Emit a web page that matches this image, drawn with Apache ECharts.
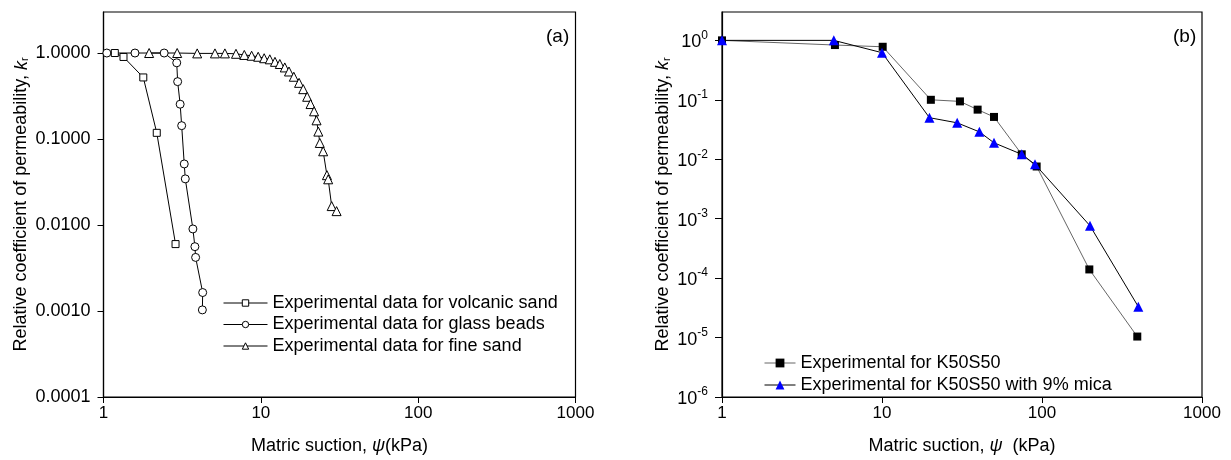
<!DOCTYPE html>
<html>
<head>
<meta charset="utf-8">
<script src="https://cdn.jsdelivr.net/npm/echarts@6/dist/echarts.min.js"></script>
<style>
  html, body { margin: 0; padding: 0; background: #fff; }
  #chart { width: 1231px; height: 460px; }
</style>
</head>
<body>
<div id="chart"></div>
<script>
// panel (a) data
const volcanicX = [1.18, 1.34, 1.79, 2.18, 2.87]
const volcanicY = [1.0, 0.9, 0.52, 0.118, 0.006]
const beadsX = [1.05, 1.585, 2.43, 2.92, 2.96, 3.07, 3.14, 3.26, 3.31, 3.7, 3.81, 3.85, 4.27, 4.25]
const beadsY = [1.0, 1.0, 1.0, 0.77, 0.465, 0.254, 0.143, 0.0513, 0.0344, 0.009, 0.0056, 0.0042, 0.00164, 0.00103]
const fineX = [1.95, 2.94, 3.94, 5.11, 5.91, 6.95, 7.85, 8.74, 9.62, 10.5, 11.4, 12.3, 13.2, 14.2, 15.1,
  16.2, 17.5, 18.6, 19.7, 20.7, 21.8, 22.6, 23.2, 23.7, 24.9, 26.3, 26.8, 28.2, 30.3]
const fineY = [1.0, 1.0, 0.99, 0.99, 0.99, 0.98, 0.95, 0.93, 0.905, 0.87, 0.845, 0.79, 0.745, 0.68, 0.61,
  0.53, 0.45, 0.38, 0.31, 0.255, 0.21, 0.165, 0.122, 0.09, 0.072, 0.038, 0.034, 0.0166, 0.0145]
const namesA = ['Experimental data for volcanic sand', 'Experimental data for glass beads', 'Experimental data for fine sand']
const ticksA = [0.0001, 0.001, 0.01, 0.1, 1]

// panel (b) data
const k50X = [1, 5.08, 10.1, 20.2, 30.7, 39.6, 50.1, 74.7, 92.6, 197.6, 394]
const k50Y = [1.0, 0.834, 0.78, 0.1, 0.094, 0.0683, 0.0515, 0.0121, 0.00755, 0.00014, 0.0000104]
const micaX = [1, 5.0, 10.0, 19.8, 29.5, 40.6, 50.1, 74.7, 90.4, 199.5, 400]
const micaY = [1.0, 1.0, 0.62, 0.05, 0.041, 0.0289, 0.0189, 0.0121, 0.0082, 0.00076, 0.000033]
const namesB = ['Experimental for K50S50', 'Experimental for K50S50 with 9% mica']
const ticksB = [1e-6, 1e-5, 1e-4, 1e-3, 1e-2, 1e-1, 1]
const ticksX = [1, 10, 100, 1000]

const font = "'Liberation Sans', Arial, sans-serif"
const zip = (xs, ys) => xs.map((x, i) => [x, ys[i]])

const chart = echarts.init(document.getElementById('chart'))

function xAxisFor (gridIndex) {
  return {
    type: 'log',
    gridIndex: gridIndex,
    min: 1,
    max: 1000,
    name: gridIndex === 0 ? 'Matric suction, {i|ψ}(kPa)' : 'Matric suction, {i|ψ}  (kPa)',
    nameLocation: 'middle',
    nameGap: 40,
    nameTextStyle: {
      fontFamily: font, fontSize: 18, color: '#000',
      rich: { i: { fontFamily: font, fontSize: 18, fontStyle: 'italic', color: '#000' } }
    },
    axisLine: { show: true, lineStyle: { color: '#000', width: 1.2 } },
    axisTick: { show: true, length: 6, lineStyle: { color: '#000' }, customValues: ticksX },
    axisLabel: {
      fontFamily: font, fontSize: 17, color: '#000', margin: 8,
      customValues: ticksX,
      formatter: v => String(Math.round(v))
    },
    splitLine: { show: false },
    minorTick: { show: false }
  }
}

const option = {
  animation: false,
  backgroundColor: '#fff',
  textStyle: { fontFamily: font },
  title: [
    { text: '(a)', left: 541, top: 22, textStyle: { fontFamily: font, fontSize: 19, fontWeight: 'normal', color: '#000' } },
    { text: '(b)', left: 1168, top: 22, textStyle: { fontFamily: font, fontSize: 19, fontWeight: 'normal', color: '#000' } }
  ],
  grid: [
    { left: 103.5, top: 12, width: 472, height: 386, show: true, borderColor: '#000', borderWidth: 1.2, backgroundColor: 'transparent' },
    { left: 722, top: 12, width: 480, height: 387, show: true, borderColor: '#000', borderWidth: 1.2, backgroundColor: 'transparent' }
  ],
  legend: [
    {
      data: namesA,
      orient: 'vertical',
      left: 223,
      top: 294,
      padding: 0,
      itemWidth: 44,
      itemHeight: 8,
      itemGap: 3.5,
      lineStyle: { width: 1 },
      itemStyle: { borderWidth: 1 },
      textStyle: { fontFamily: font, fontSize: 18, color: '#000' }
    },
    {
      data: namesB,
      orient: 'vertical',
      left: 764,
      top: 354,
      padding: 0,
      itemWidth: 31,
      itemHeight: 11,
      itemGap: 4,
      lineStyle: { width: 1 },
      textStyle: { fontFamily: font, fontSize: 18, color: '#000' }
    }
  ],
  xAxis: [xAxisFor(0), xAxisFor(1)],
  yAxis: [
    {
      type: 'log',
      gridIndex: 0,
      min: 0.0001,
      max: 3,
      name: 'Relative coefficient of permeability, {i|k}{s|r}',
      nameLocation: 'middle',
      nameGap: 73,
      nameTextStyle: {
        fontFamily: font, fontSize: 18, color: '#000',
        rich: {
          i: { fontFamily: font, fontSize: 18, fontStyle: 'italic', color: '#000' },
          s: { fontFamily: font, fontSize: 11, color: '#000', verticalAlign: 'bottom', lineHeight: 14 }
        }
      },
      axisLine: { show: true, lineStyle: { color: '#000', width: 1.2 } },
      axisTick: { show: true, length: 6, lineStyle: { color: '#000' }, customValues: ticksA },
      axisLabel: {
        fontFamily: font, fontSize: 18, color: '#000', margin: 13,
        customValues: ticksA,
        formatter: v => v.toFixed(4)
      },
      splitLine: { show: false }
    },
    {
      type: 'log',
      gridIndex: 1,
      min: 1e-6,
      max: 3,
      name: 'Relative coefficient of permeability, {i|k}{s|r}',
      nameLocation: 'middle',
      nameGap: 50,
      nameTextStyle: {
        fontFamily: font, fontSize: 18, color: '#000',
        rich: {
          i: { fontFamily: font, fontSize: 18, fontStyle: 'italic', color: '#000' },
          s: { fontFamily: font, fontSize: 11, color: '#000', verticalAlign: 'bottom', lineHeight: 14 }
        }
      },
      axisLine: { show: true, lineStyle: { color: '#000', width: 1.2 } },
      axisTick: { show: true, length: 7, lineStyle: { color: '#000' }, customValues: ticksB },
      axisLabel: {
        color: '#000', margin: 14,
        customValues: ticksB,
        formatter: v => '{b|10}{s|' + Math.round(Math.log10(v)) + '}',
        rich: {
          b: { fontFamily: font, fontSize: 18, color: '#000', lineHeight: 22, verticalAlign: 'bottom' },
          s: { fontFamily: font, fontSize: 12, color: '#000', lineHeight: 12, verticalAlign: 'top' }
        }
      },
      splitLine: { show: false }
    }
  ],
  series: [
    {
      name: namesA[0], type: 'line', xAxisIndex: 0, yAxisIndex: 0,
      data: zip(volcanicX, volcanicY),
      symbol: 'rect', symbolSize: 7,
      lineStyle: { color: '#000', width: 1 },
      itemStyle: { color: '#fff', borderColor: '#000', borderWidth: 1 }
    },
    {
      name: namesA[1], type: 'line', xAxisIndex: 0, yAxisIndex: 0,
      data: zip(beadsX, beadsY),
      symbol: 'circle', symbolSize: 8,
      lineStyle: { color: '#000', width: 1 },
      itemStyle: { color: '#fff', borderColor: '#000', borderWidth: 1 }
    },
    {
      name: namesA[2], type: 'line', xAxisIndex: 0, yAxisIndex: 0,
      data: zip(fineX, fineY),
      symbol: 'triangle', symbolSize: 9,
      lineStyle: { color: '#000', width: 1 },
      itemStyle: { color: '#fff', borderColor: '#000', borderWidth: 1 }
    },
    {
      name: namesB[0], type: 'line', xAxisIndex: 1, yAxisIndex: 1,
      data: zip(k50X, k50Y),
      symbol: 'rect', symbolSize: 8,
      lineStyle: { color: '#666', width: 1 },
      itemStyle: { color: '#000', borderColor: '#000', borderWidth: 0 }
    },
    {
      name: namesB[1], type: 'line', xAxisIndex: 1, yAxisIndex: 1,
      data: zip(micaX, micaY),
      symbol: 'triangle', symbolSize: 10,
      lineStyle: { color: '#000', width: 1 },
      itemStyle: { color: '#0000ff', borderColor: '#0000ff', borderWidth: 0 }
    }
  ]
}

chart.setOption(option)
</script>
</body>
</html>
